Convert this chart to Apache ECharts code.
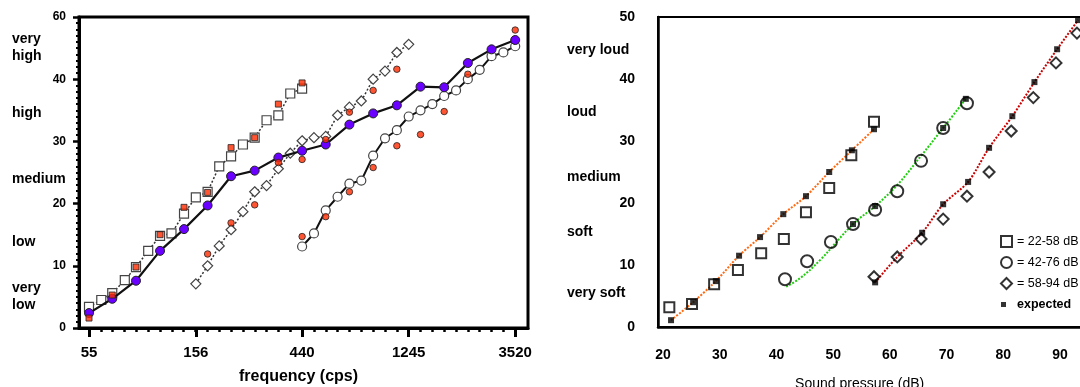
<!DOCTYPE html>
<html>
<head>
<meta charset="utf-8">
<script src="https://cdn.jsdelivr.net/npm/echarts@6/dist/echarts.min.js"></script>
<style>
  html, body { margin: 0; padding: 0; background: #fff; }
  #chart { width: 1080px; height: 387px; }
</style>
</head>
<body>
<div id="chart"></div>
<script>
// ---- left panel: judged pitch vs frequency ----
const freqTicks = [55, 156, 440, 1245, 3520];
const pitchTickLabels = ["0", "10", "20", "30", "40", "60"];
const pitchCats = ["very\nlow", "low", "medium", "high", "very\nhigh"];
const pitchCatVals = [5, 13.8, 23.9, 34.5, 45];

const squareFreq = [55, 62, 69, 78, 87, 98, 110, 123, 139, 156, 175, 196, 220, 247, 277, 311, 349, 392, 440];
const squareVal = [3.4, 4.5, 5.6, 7.7, 9.8, 12.4, 14.8, 15.2, 18.4, 21.0, 21.9, 26.0, 27.6, 29.5, 30.6, 33.4, 34.2, 37.7, 38.5];

const diamondFreq = [156, 175, 196, 220, 247, 277, 311, 349, 392, 440, 494, 554, 622, 698, 784, 880, 988, 1109, 1245];
const diamondVal = [7.1, 10.0, 13.2, 15.8, 18.7, 21.9, 22.9, 25.6, 28.1, 30.1, 30.6, 30.8, 34.2, 35.5, 36.5, 40.0, 41.3, 44.3, 45.6];

const circleFreq = [440, 494, 554, 622, 698, 784, 880, 988, 1109, 1245, 1397, 1568, 1760, 1976, 2217, 2489, 2794, 3136, 3520];
const circleVal = [13.1, 15.2, 18.9, 21.1, 23.2, 23.7, 27.7, 30.5, 31.8, 34.0, 35.0, 36.0, 37.3, 38.2, 40.0, 41.5, 43.7, 44.3, 45.3];

const purpleFreq = [55, 69, 87, 110, 139, 175, 220, 277, 349, 440, 554, 698, 880, 1109, 1397, 1760, 2217, 2794, 3520];
const purpleVal = [2.4, 4.7, 7.6, 12.4, 15.9, 19.7, 24.4, 25.3, 27.4, 28.5, 29.5, 32.7, 34.5, 35.8, 38.8, 38.7, 42.6, 44.8, 46.3];

const redSquareFreq = [55, 69, 87, 110, 139, 175, 220, 277, 349, 440];
const redSquareVal = [1.6, 5.3, 9.8, 15.0, 19.4, 21.8, 29.0, 30.6, 36.0, 39.4];

const redDiamondFreq = [175, 220, 277, 349, 440, 554, 698, 880, 1109];
const redDiamondVal = [11.9, 16.9, 19.8, 26.6, 27.1, 30.3, 34.7, 38.2, 41.6];

const redCircleFreq = [440, 554, 698, 880, 1109, 1397, 1760, 2217, 3520];
const redCircleVal = [14.7, 17.9, 21.9, 25.8, 29.3, 31.1, 34.8, 40.8, 47.9];

// ---- right panel: judged loudness vs sound pressure ----
const dbTicks = [20, 30, 40, 50, 60, 70, 80, 90];
const loudCats = ["very soft", "soft", "medium", "loud", "very loud"];
const loudCatVals = [5.5, 15.3, 24.1, 34.7, 44.6];

const sqDb = [21.1, 25.1, 29.0, 33.2, 37.3, 41.3, 45.2, 49.3, 53.2, 57.2];
const sqLoud = [3.2, 3.7, 6.9, 9.2, 11.9, 14.2, 18.5, 22.4, 27.7, 33.1];
const ciDb = [41.5, 45.4, 49.6, 53.5, 57.4, 61.3, 65.5, 69.4, 73.6];
const ciLoud = [7.7, 10.6, 13.7, 16.6, 18.9, 21.9, 26.8, 32.1, 36.1];
const diDb = [57.2, 61.3, 65.5, 69.4, 73.6, 77.5, 81.4, 85.3, 89.3, 93.0];
const diLoud = [8.1, 11.3, 14.2, 17.4, 21.1, 25.0, 31.6, 37.0, 42.6, 47.4];

const lowFitDb = [21.4, 25.3, 29.3, 33.4, 37.1, 41.2, 45.2, 49.3, 53.3, 57.2];
const lowFitLoud = [1.1, 4.0, 7.4, 11.5, 14.5, 18.2, 21.1, 25.0, 28.5, 31.9];
const midFitDb = [41.7, 44.2, 47.7, 53.5, 57.4, 61.3, 65.5, 69.4, 73.4];
const midFitLoud = [6.5, 7.9, 10.8, 16.6, 19.5, 22.9, 27.6, 32.1, 36.8];
const highFitDb = [57.4, 61.3, 65.7, 69.4, 73.8, 77.5, 81.6, 85.5, 89.5, 93.2];
const highFitLoud = [7.2, 11.3, 15.2, 19.8, 23.4, 28.9, 34.0, 39.5, 44.8, 49.5];

const expDb = [21.4, 25.3, 29.3, 33.4, 37.1, 41.2, 45.2, 49.3, 53.3, 57.2, 53.5, 57.4, 69.4, 73.4, 57.4, 65.7, 69.4, 73.8, 77.5, 81.6, 85.5, 89.5, 93.2];
const expLoud = [1.1, 4.0, 7.4, 11.5, 14.5, 18.2, 21.1, 25.0, 28.5, 31.9, 16.6, 19.5, 32.1, 36.8, 7.2, 15.2, 19.8, 23.4, 28.9, 34.0, 39.5, 44.8, 49.5];

// semitones above 55 Hz -> log frequency axis
const semi = (f) => 12 * Math.log2(f / 55);
const pairsF = (fs, vs) => fs.map((f, i) => [semi(f), vs[i]]);
const pairs = (xs, ys) => xs.map((x, i) => [x, ys[i]]);
const nearest = (arr, v) => {
  let best = 0;
  arr.forEach((a, i) => { if (Math.abs(a - v) < Math.abs(arr[best] - v)) best = i; });
  return best;
};

const FONT = "Liberation Sans, Arial, sans-serif";
const freqTickPos = freqTicks.map(semi);
const wholeTones = [];
for (let s = 0; s <= 72; s += 2) wholeTones.push(s);

const openStyle = { color: "#fff", borderColor: "#444", borderWidth: 1.2 };
const redStyle = { color: "#ff2a00", borderColor: "#222", borderWidth: 1 };
const hollow = { color: "rgba(0,0,0,0)", borderColor: "#000", borderWidth: 2 };

const chart = echarts.init(document.getElementById("chart"));
chart.setOption({
  animation: false,
  backgroundColor: "#fff",
  textStyle: { fontFamily: FONT },
  grid: [
    { left: 79, right: 552, top: 17, bottom: 59, show: true, borderColor: "#000", borderWidth: 3, outerBoundsMode: "none" },
    { left: 658, right: -8.3, top: 17, bottom: 60, show: true, borderColor: "#000", borderWidth: 2, outerBoundsMode: "none" }
  ],
  legend: {
    left: 1000, top: 235, orient: "vertical", padding: 0,
    itemWidth: 11, itemHeight: 11, itemGap: 8, selectedMode: false,
    textStyle: { fontSize: 12.5, color: "#000", fontFamily: FONT },
    data: [
      { name: "= 22-58 dB" },
      { name: "= 42-76 dB" },
      { name: "= 58-94 dB" },
      { name: "expected", icon: "path://M0,0M11,11M0,3h5v5h-5z", textStyle: { fontWeight: "bold" } }
    ]
  },
  xAxis: [
    {
      gridIndex: 0, type: "value", position: "bottom",
      min: -1.69, max: 74.16, splitLine: { show: false },
      axisLine: { onZero: false, lineStyle: { color: "#000", width: 3 } },
      axisTick: { customValues: freqTickPos, length: 9, lineStyle: { color: "#000", width: 3 } },
      axisLabel: {
        customValues: freqTickPos, margin: 17,
        fontSize: 15, fontWeight: "bold", color: "#000",
        formatter: (v) => String(freqTicks[nearest(freqTickPos, v)])
      },
      name: "frequency (cps)", nameLocation: "middle", nameGap: 41,
      nameTextStyle: { fontSize: 16, fontWeight: "bold", color: "#000", padding: [0, 10, 0, 0] }
    },
    {
      gridIndex: 0, type: "value", position: "bottom",
      min: -1.69, max: 74.16, splitLine: { show: false },
      axisLine: { show: false, onZero: false },
      axisTick: { customValues: wholeTones, length: 4, lineStyle: { color: "#000", width: 2.5 } },
      axisLabel: { show: false }
    },
    {
      gridIndex: 1, type: "value", position: "bottom",
      min: 19.1, max: 95, splitLine: { show: false },
      axisLine: { onZero: false, lineStyle: { color: "#000", width: 2.5 } },
      axisTick: { show: false },
      axisLabel: {
        customValues: dbTicks, margin: 21,
        fontSize: 14, fontWeight: "bold", color: "#000"
      },
      name: "Sound pressure (dB)", nameLocation: "middle", nameGap: 50,
      nameTextStyle: { fontSize: 14, color: "#000", padding: [0, 27, 0, 0] }
    }
  ],
  yAxis: [
    {
      gridIndex: 0, type: "value", position: "left",
      min: 0, max: 50, interval: 10, splitLine: { show: false },
      axisLine: { onZero: false, lineStyle: { color: "#000", width: 3 } },
      axisTick: { length: 6, lineStyle: { color: "#000", width: 2.5 } },
      minorTick: { show: true, splitNumber: 10, length: 3, lineStyle: { color: "#000", width: 2 } },
      axisLabel: {
        margin: 13, fontSize: 12, fontWeight: "bold", color: "#000",
        formatter: (v) => pitchTickLabels[Math.round(v / 10)]
      }
    },
    {
      gridIndex: 0, type: "value", position: "left",
      min: 0, max: 50, splitLine: { show: false },
      axisLine: { show: false, onZero: false }, axisTick: { show: false },
      axisLabel: {
        customValues: pitchCatVals, margin: 67, align: "left",
        fontSize: 14, fontWeight: "bold", color: "#000", lineHeight: 17,
        formatter: (v) => pitchCats[nearest(pitchCatVals, v)]
      }
    },
    {
      gridIndex: 1, type: "value", position: "left",
      min: 0, max: 50, interval: 10, splitLine: { show: false },
      axisLine: { onZero: false, lineStyle: { color: "#000", width: 2.5 } },
      axisTick: { show: false },
      axisLabel: { margin: 23, fontSize: 14, fontWeight: "bold", color: "#000", padding: [5, 0, 0, 0] }
    },
    {
      gridIndex: 1, type: "value", position: "left",
      min: 0, max: 50, splitLine: { show: false },
      axisLine: { show: false, onZero: false }, axisTick: { show: false },
      axisLabel: {
        customValues: loudCatVals, margin: 91, align: "left",
        fontSize: 14, fontWeight: "bold", color: "#000",
        formatter: (v) => loudCats[nearest(loudCatVals, v)]
      }
    }
  ],
  series: [
    // left panel
    {
      name: "squares", type: "line", xAxisIndex: 0, yAxisIndex: 0, z: 2,
      data: pairsF(squareFreq, squareVal), symbol: "rect", symbolSize: 9, showSymbol: true,
      itemStyle: openStyle, lineStyle: { color: "#333", width: 1.5, type: [2, 2] }
    },
    {
      name: "diamonds", type: "line", xAxisIndex: 0, yAxisIndex: 0, z: 2,
      data: pairsF(diamondFreq, diamondVal), symbol: "diamond", symbolSize: 10, showSymbol: true,
      itemStyle: openStyle, lineStyle: { color: "#333", width: 1.5, type: [2, 2] }
    },
    {
      name: "circles", type: "line", xAxisIndex: 0, yAxisIndex: 0, z: 2,
      data: pairsF(circleFreq, circleVal), symbol: "circle", symbolSize: 9, showSymbol: true,
      itemStyle: openStyle, lineStyle: { color: "#111", width: 2 }
    },
    {
      name: "purple", type: "line", xAxisIndex: 0, yAxisIndex: 0, z: 3,
      data: pairsF(purpleFreq, purpleVal), symbol: "circle", symbolSize: 9, showSymbol: true,
      itemStyle: { color: "#6a00ff", borderColor: "#222", borderWidth: 1 },
      lineStyle: { color: "#111", width: 2.2 }
    },
    {
      name: "red squares", type: "scatter", xAxisIndex: 0, yAxisIndex: 0, z: 5,
      data: pairsF(redSquareFreq, redSquareVal), symbol: "rect", symbolSize: 6, itemStyle: redStyle
    },
    {
      name: "red dots a", type: "scatter", xAxisIndex: 0, yAxisIndex: 0, z: 5,
      data: pairsF(redDiamondFreq, redDiamondVal), symbol: "circle", symbolSize: 6.5, itemStyle: redStyle
    },
    {
      name: "red dots b", type: "scatter", xAxisIndex: 0, yAxisIndex: 0, z: 5,
      data: pairsF(redCircleFreq, redCircleVal), symbol: "circle", symbolSize: 6.5, itemStyle: redStyle
    },
    // right panel
    {
      name: "fit low", type: "line", xAxisIndex: 2, yAxisIndex: 2, z: 2, smooth: 0.3, showSymbol: false,
      data: pairs(lowFitDb, lowFitLoud), lineStyle: { color: "#ff6a13", width: 2, type: [2, 1.5] }
    },
    {
      name: "fit mid", type: "line", xAxisIndex: 2, yAxisIndex: 2, z: 2, smooth: 0.4, showSymbol: false,
      data: pairs(midFitDb, midFitLoud), lineStyle: { color: "#22cc11", width: 2, type: [2, 1.5] }
    },
    {
      name: "fit high", type: "line", xAxisIndex: 2, yAxisIndex: 2, z: 2, smooth: 0.3, showSymbol: false,
      data: pairs(highFitDb, highFitLoud), lineStyle: { color: "#cc0000", width: 2, type: [2, 1.5] }
    },
    {
      name: "= 22-58 dB", type: "scatter", xAxisIndex: 2, yAxisIndex: 2, z: 3,
      data: pairs(sqDb, sqLoud), symbol: "rect", symbolSize: 10, itemStyle: hollow
    },
    {
      name: "= 42-76 dB", type: "scatter", xAxisIndex: 2, yAxisIndex: 2, z: 3,
      data: pairs(ciDb, ciLoud), symbol: "circle", symbolSize: 12, itemStyle: hollow
    },
    {
      name: "= 58-94 dB", type: "scatter", xAxisIndex: 2, yAxisIndex: 2, z: 3,
      data: pairs(diDb, diLoud), symbol: "diamond", symbolSize: 11, itemStyle: hollow
    },
    {
      name: "expected", type: "scatter", xAxisIndex: 2, yAxisIndex: 2, z: 4,
      data: pairs(expDb, expLoud), symbol: "rect", symbolSize: 6, itemStyle: { color: "#000" }
    }
  ]
});
</script>
</body>
</html>
